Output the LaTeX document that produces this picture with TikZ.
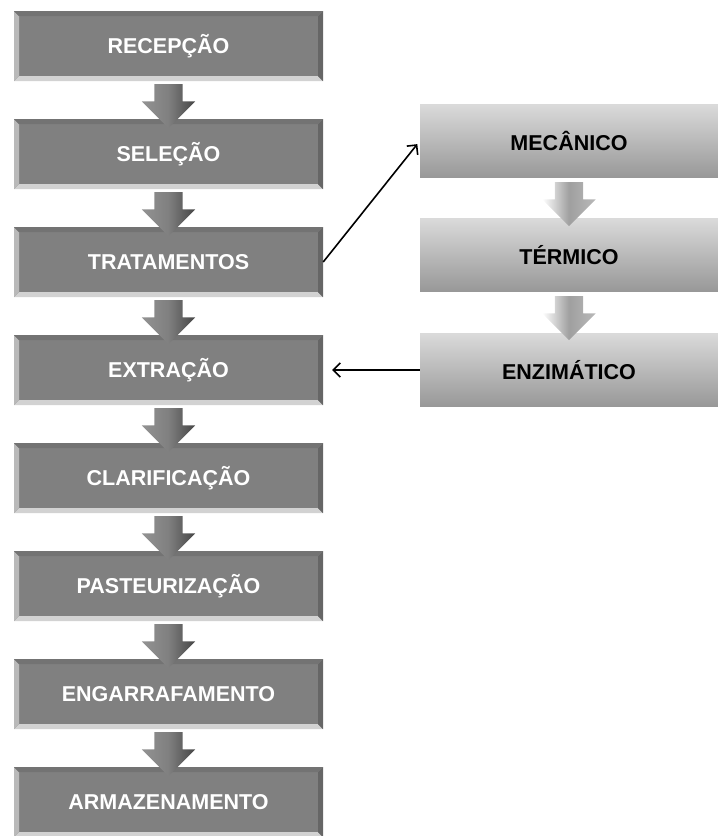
\documentclass[tikz,border=0pt]{standalone}
\usepackage{fontspec}
\setmainfont{Liberation Sans}
\usetikzlibrary{shapes.arrows,arrows.meta}

\definecolor{boxgray}{RGB}{128,128,128}
\definecolor{lighttop}{RGB}{218,218,218}
\definecolor{lightbot}{RGB}{152,152,152}

\begin{document}
\begin{tikzpicture}[x=1pt,y=-1pt]
\tikzstyle{stage}=[rectangle, fill=boxgray, minimum width=309pt, minimum height=70pt, inner sep=0pt,
  font=\fontsize{21.5}{25}\selectfont\bfseries, text=white,
  path picture={
    \fill[gray!35] (path picture bounding box.south west) -- (path picture bounding box.south east)
      -- ([shift={(-5pt,5pt)}]path picture bounding box.south east) -- ([shift={(5pt,5pt)}]path picture bounding box.south west) -- cycle;
    \fill[gray!55] (path picture bounding box.south west) -- (path picture bounding box.north west)
      -- ([shift={(5pt,-5pt)}]path picture bounding box.north west) -- ([shift={(5pt,5pt)}]path picture bounding box.south west) -- cycle;
    \fill[gray!80!black] (path picture bounding box.south east) -- (path picture bounding box.north east)
      -- ([shift={(-5pt,-5pt)}]path picture bounding box.north east) -- ([shift={(-5pt,5pt)}]path picture bounding box.south east) -- cycle;
    \fill[gray!90!black] (path picture bounding box.north west) -- (path picture bounding box.north east)
      -- ([shift={(-5pt,-5pt)}]path picture bounding box.north east) -- ([shift={(5pt,-5pt)}]path picture bounding box.north west) -- cycle;
  }]
\tikzstyle{method}=[rectangle, top color=lighttop, bottom color=lightbot, minimum width=298pt, minimum height=73pt, inner sep=0pt,
  font=\fontsize{21.5}{25}\selectfont\bfseries, text=black]
\tikzstyle{darrow}=[single arrow, shape border rotate=270, minimum height=44pt, inner sep=14pt,
  single arrow head extend=12.5pt, left color=gray!85, right color=gray!55!black, middle color=gray]
\tikzstyle{larrow}=[single arrow, shape border rotate=270, minimum height=44pt, inner sep=14pt,
  single arrow head extend=12.5pt, left color=white, right color=gray!55, middle color=gray!75]
\tikzstyle{link}=[-{Straight Barb[length=7pt,width=14pt]}, line width=1.6pt, black]

\useasboundingbox (0,0) rectangle (718,836);

\node[stage] (R) at (168.5,46) {RECEPÇÃO};
\node[stage] (S) at (168.5,154) {SELEÇÃO};
\node[stage] (T) at (168.5,262) {TRATAMENTOS};
\node[stage] (X) at (168.5,370) {EXTRAÇÃO};
\node[stage] (C) at (168.5,478) {CLARIFICAÇÃO};
\node[stage] (P) at (168.5,586) {PASTEURIZAÇÃO};
\node[stage] (E) at (168.5,694) {ENGARRAFAMENTO};
\node[stage] (A) at (168.5,802) {ARMAZENAMENTO};

\node[method] (M) at (569,141) {MECÂNICO};
\node[method] (K) at (569,255) {TÉRMICO};
\node[method] (Z) at (569,370) {ENZIMÁTICO};

% block arrows between the stages
\node[darrow] (RS) at (168.5,99) {};
\node[darrow] (ST) at (168.5,207) {};
\node[darrow] (TX) at (168.5,315) {};
\node[darrow] (XC) at (168.5,423) {};
\node[darrow] (CP) at (168.5,531) {};
\node[darrow] (PE) at (168.5,639) {};
\node[darrow] (EA) at (168.5,747) {};

\node[larrow] (MK) at (569,197) {};
\node[larrow] (KZ) at (569,311) {};

\draw[link, shorten >=4pt] (T.east) -- (M.west);
\draw[link, shorten >=9pt] (Z.west) -- (X.east);
\end{tikzpicture}
\end{document}
